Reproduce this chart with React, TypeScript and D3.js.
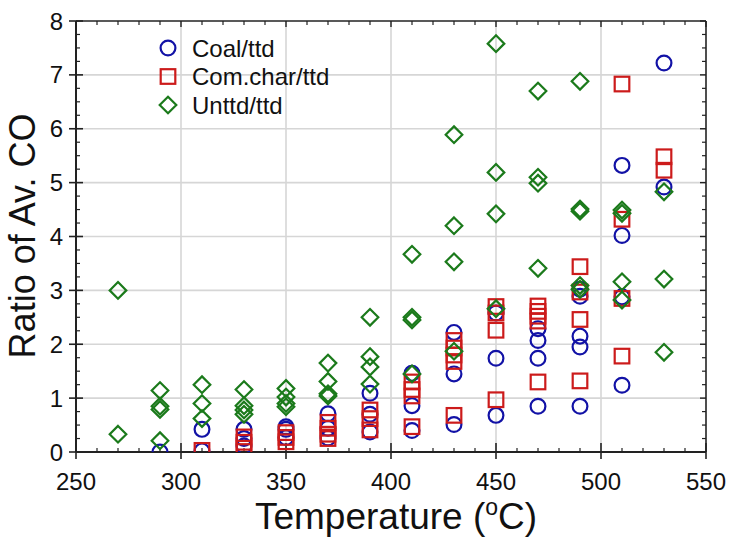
import React from 'react';
import * as d3 from 'd3';

const xTicks = [250, 300, 350, 400, 450, 500, 550];
const yTicks = [0, 1, 2, 3, 4, 5, 6, 7, 8];

const coal: [number, number][] = [
  [290, 0.0],
  [310, 0.42], [310, 0.02],
  [330, 0.42], [330, 0.25], [330, 0.11],
  [350, 0.47], [350, 0.42], [350, 0.27],
  [370, 0.71], [370, 0.44], [370, 0.26],
  [390, 1.09], [390, 0.7], [390, 0.37],
  [410, 1.46], [410, 0.86], [410, 0.4],
  [430, 2.22], [430, 1.45], [430, 0.51],
  [450, 2.58], [450, 1.74], [450, 0.68],
  [470, 2.29], [470, 2.07], [470, 1.74], [470, 0.85],
  [490, 3.02], [490, 2.89], [490, 2.15], [490, 1.95], [490, 0.85],
  [510, 5.32], [510, 4.02], [510, 2.88], [510, 1.24],
  [530, 7.22], [530, 4.92],
];

const comChar: [number, number][] = [
  [310, 0.03],
  [330, 0.28], [330, 0.18], [330, 0.07],
  [350, 0.36], [350, 0.27], [350, 0.19],
  [370, 0.55], [370, 0.44], [370, 0.33], [370, 0.25],
  [390, 0.78], [390, 0.62], [390, 0.41],
  [410, 1.3], [410, 1.16], [410, 1.04], [410, 0.47],
  [430, 2.07], [430, 1.93], [430, 1.8], [430, 1.68], [430, 0.68],
  [450, 2.7], [450, 2.58], [450, 2.26], [450, 0.97],
  [470, 2.71], [470, 2.61], [470, 2.52], [470, 2.43], [470, 1.3],
  [490, 3.44], [490, 2.97], [490, 2.46], [490, 1.32],
  [510, 6.83], [510, 4.32], [510, 2.85], [510, 1.78],
  [530, 5.48], [530, 5.23],
];

const unttd: [number, number][] = [
  [270, 3.0], [270, 0.33],
  [290, 1.14], [290, 0.85], [290, 0.79], [290, 0.21],
  [310, 1.25], [310, 0.9], [310, 0.62],
  [330, 1.16], [330, 0.86], [330, 0.78], [330, 0.7],
  [350, 1.18], [350, 1.02], [350, 0.9], [350, 0.84],
  [370, 1.65], [370, 1.31], [370, 1.08], [370, 1.04],
  [390, 2.5], [390, 1.77], [390, 1.58], [390, 1.26],
  [410, 3.67], [410, 2.5], [410, 2.45], [410, 1.45],
  [430, 5.89], [430, 4.2], [430, 3.53], [430, 1.87],
  [450, 7.58], [450, 5.19], [450, 4.42], [450, 2.66],
  [470, 6.7], [470, 5.1], [470, 4.99], [470, 3.41],
  [490, 6.88], [490, 4.51], [490, 4.47], [490, 3.09], [490, 3.02],
  [510, 4.49], [510, 4.43], [510, 3.16], [510, 2.82],
  [530, 4.83], [530, 3.21], [530, 1.85],
];

const seriesNames = ['Coal/ttd', 'Com.char/ttd', 'Unttd/ttd'];
const seriesShapes = ['circle', 'square', 'diamond'];
const seriesColors = ['#1212a6', '#cc1b1b', '#1b7a1b'];
const seriesData = [coal, comChar, unttd];

const FONT = '"Liberation Sans", Arial, sans-serif';

function Marker({ shape, cx, cy, color }: { shape: string; cx: number; cy: number; color: string }) {
  const sw = 2.2;
  if (shape === 'circle') {
    return <circle cx={cx} cy={cy} r={7.4} fill="none" stroke={color} strokeWidth={sw} />;
  }
  if (shape === 'square') {
    return <rect x={cx - 7.3} y={cy - 7.3} width={14.6} height={14.6} fill="none" stroke={color} strokeWidth={sw} />;
  }
  const d = 8.3;
  return (
    <path
      d={`M${cx},${cy - d}L${cx + d},${cy}L${cx},${cy + d}L${cx - d},${cy}Z`}
      fill="none"
      stroke={color}
      strokeWidth={sw}
    />
  );
}

export default function App() {
  const W = 730;
  const H = 539;
  const x = d3.scaleLinear().domain([250, 550]).range([76, 706]);
  const y = d3.scaleLinear().domain([0, 8]).range([452, 21]);
  const [x0, x1] = x.range();
  const [y0, y1] = y.range();

  const xMinor = d3.range(250, 551, 10).filter((v) => v % 50 !== 0);
  const yMinor = d3.range(0, 8.001, 0.25).filter((v) => Math.abs(v - Math.round(v)) > 1e-6);

  return (
    <svg
      width={W}
      height={H}
      style={{ position: 'absolute', left: 0, top: 0, background: '#fff' }}
      fontFamily={FONT}
    >
      <defs>
        <clipPath id="plotClip">
          <rect x={x0} y={y1} width={x1 - x0} height={y0 - y1} />
        </clipPath>
      </defs>
      <rect x={0} y={0} width={W} height={H} fill="#fff" />

      {/* grid */}
      {xTicks.slice(1, -1).map((t) => (
        <line key={'gx' + t} x1={x(t)} x2={x(t)} y1={y1} y2={y0} stroke="#d6d6d6" strokeWidth={1.6} />
      ))}
      {yTicks.slice(1, -1).map((t) => (
        <line key={'gy' + t} x1={x0} x2={x1} y1={y(t)} y2={y(t)} stroke="#d6d6d6" strokeWidth={1.6} />
      ))}

      {/* frame */}
      <line x1={x0} x2={x1} y1={y1} y2={y1} stroke="#222" strokeWidth={1.6} />
      <line x1={x1} x2={x1} y1={y1} y2={y0} stroke="#222" strokeWidth={1.6} />
      <line x1={x0} x2={x1} y1={y0} y2={y0} stroke="#222" strokeWidth={2} />
      <line x1={x0} x2={x0} y1={y1} y2={y0} stroke="#222" strokeWidth={2} />

      {/* x ticks */}
      {xTicks.map((t) => (
        <g key={'xt' + t}>
          <line x1={x(t)} x2={x(t)} y1={y0 - 9} y2={y0 + 7} stroke="#222" strokeWidth={1.6} />
          <line x1={x(t)} x2={x(t)} y1={y1} y2={y1 + 6} stroke="#222" strokeWidth={1.4} />
          <text x={x(t)} y={490} textAnchor="middle" fontSize={24} fill="#111">
            {t}
          </text>
        </g>
      ))}
      {xMinor.map((t) => (
        <g key={'xm' + t}>
          <line x1={x(t)} x2={x(t)} y1={y0} y2={y0 - 4} stroke="#222" strokeWidth={1.2} />
          <line x1={x(t)} x2={x(t)} y1={y1} y2={y1 + 4} stroke="#222" strokeWidth={1.2} />
        </g>
      ))}

      {/* y ticks */}
      {yTicks.map((t) => (
        <g key={'yt' + t}>
          <line x1={x0 - 7} x2={x0 + 7} y1={y(t)} y2={y(t)} stroke="#222" strokeWidth={1.6} />
          <line x1={x1 - 6} x2={x1} y1={y(t)} y2={y(t)} stroke="#222" strokeWidth={1.4} />
          <text x={63} y={y(t) + 8.5} textAnchor="end" fontSize={24} fill="#111">
            {t}
          </text>
        </g>
      ))}
      {yMinor.map((t) => (
        <g key={'ym' + t}>
          <line x1={x0} x2={x0 + 4} y1={y(t)} y2={y(t)} stroke="#222" strokeWidth={1.2} />
          <line x1={x1 - 4} x2={x1} y1={y(t)} y2={y(t)} stroke="#222" strokeWidth={1.2} />
        </g>
      ))}

      {/* points */}
      <g clipPath="url(#plotClip)">
        {seriesData.map((data, si) =>
          data.map(([t, v], i) => (
            <Marker key={si + '-' + i} shape={seriesShapes[si]} cx={x(t)} cy={y(v)} color={seriesColors[si]} />
          ))
        )}
      </g>

      {/* legend */}
      {seriesNames.map((name, i) => (
        <g key={'lg' + i}>
          <Marker shape={seriesShapes[i]} cx={168} cy={48 + i * 28.5} color={seriesColors[i]} />
          <text x={192} y={48 + i * 28.5 + 8.5} fontSize={24} fill="#111">
            {name}
          </text>
        </g>
      ))}

      {/* axis titles */}
      <text x={396} y={529} textAnchor="middle" fontSize={37} fill="#111">
        Temperature (
        <tspan fontSize={23} dy={-14}>
          o
        </tspan>
        <tspan dy={14}>C)</tspan>
      </text>
      <text
        transform={`translate(35, ${236}) rotate(-90)`}
        textAnchor="middle"
        fontSize={36}
        fill="#111"
      >
        Ratio of Av. CO
      </text>
    </svg>
  );
}
